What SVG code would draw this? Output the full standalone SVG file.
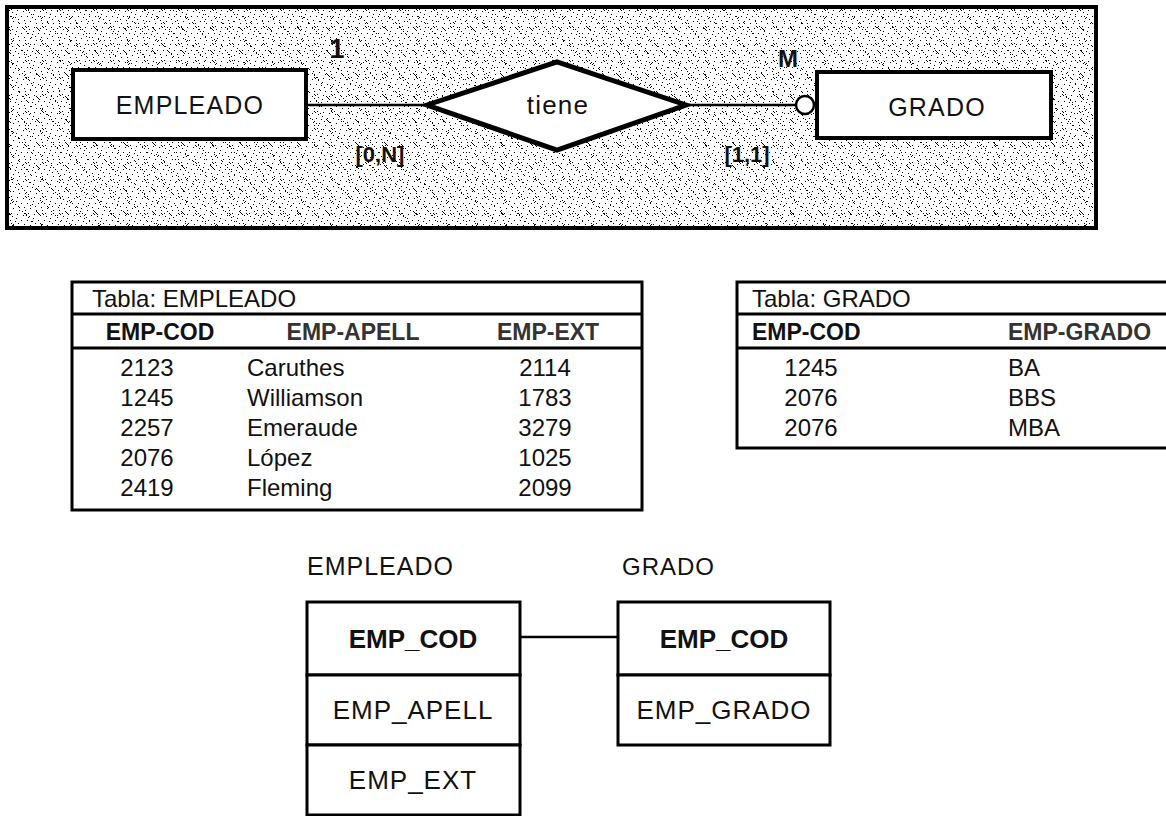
<svg xmlns="http://www.w3.org/2000/svg" width="1166" height="816" viewBox="0 0 1166 816">
<defs>
<pattern id="noise1" x="0" y="0" width="17" height="17" patternUnits="userSpaceOnUse">
<path d="M1 2h1v1h-1zM7 3h1v1h-1zM13 4h1v1h-1zM2 6h1v1h-1zM8 6h1v1h-1zM11 9h1v1h-1zM0 10h1v1h-1zM6 11h1v1h-1zM12 12h1v1h-1zM16 14h1v1h-1zM4 16h1v1h-1zM10 16h1v1h-1zM8 9h1v1h-1zM9 10h1v1h-1zM15 0h1v1h-1z" fill="#000"/>
</pattern>
<pattern id="noise2" x="5" y="3" width="29" height="23" patternUnits="userSpaceOnUse">
<path d="M2 1h1v1h-1zM3 2h1v1h-1zM4 3h1v1h-1zM5 4h1v1h-1zM17 1h1v1h-1zM19 3h1v1h-1zM21 5h1v1h-1zM23 7h1v1h-1zM6 13h1v1h-1zM8 14h1v1h-1zM7 15h1v1h-1zM25 18h1v1h-1zM13 19h1v1h-1zM14 20h1v1h-1zM26 11h1v1h-1z" fill="#000"/>
</pattern>
<pattern id="light1" x="0" y="0" width="19" height="15" patternUnits="userSpaceOnUse">
<path d="M1 1h1v1h-1zM6 3h1v1h-1zM11 0h1v1h-1zM15 4h1v1h-1zM3 7h1v1h-1zM9 8h1v1h-1zM13 9h1v1h-1zM17 7h1v1h-1zM0 12h1v1h-1zM5 13h1v1h-1zM10 11h1v1h-1zM16 13h1v1h-1z" fill="#000"/>
</pattern>
<style>
.ent{fill:#fff;stroke:#000;stroke-width:4}
.lbl{font-family:"Liberation Sans",Arial,sans-serif;font-size:25px;fill:#111;letter-spacing:1.2px}
.card{font-family:"Liberation Sans",Arial,sans-serif;font-size:22px;font-weight:bold;fill:#111}
.tb{font-family:"Liberation Sans",Arial,sans-serif;font-size:24px;fill:#111}
.tbh{font-family:"Liberation Sans",Arial,sans-serif;font-size:23px;font-weight:bold;fill:#111}
.tbh2{font-family:"Liberation Sans",Arial,sans-serif;font-size:23px;font-weight:bold;fill:#333}
.cell{fill:#fff;stroke:#000;stroke-width:3}
.rel{font-family:"Liberation Sans",Arial,sans-serif;font-size:26px;fill:#111;letter-spacing:1px}
.conn{stroke:#000;stroke-width:2.5;fill:none}
.tline{stroke:#000;stroke-width:3;fill:none}
</style>
</defs>

<g id="er-frame">
<rect x="7" y="7" width="1089" height="221" fill="#fff"/>
<rect x="7" y="7" width="1089" height="221" fill="url(#noise1)"/>
<rect x="7" y="7" width="1089" height="221" fill="url(#noise2)"/>
<rect x="7" y="7" width="1089" height="221" fill="none" stroke="#000" stroke-width="4"/>
</g>

<g id="connectors">
<line class="conn" x1="306" y1="105" x2="427" y2="105"/>
<line class="conn" x1="686" y1="105" x2="796" y2="105"/>
<line class="conn" x1="520" y1="637" x2="618" y2="637" stroke-width="2"/>
<circle cx="805" cy="105" r="9" fill="#fff" stroke="#000" stroke-width="2.5"/>
</g>

<g id="empleado">
<rect class="ent" x="73" y="70" width="233" height="69"/>
<text class="lbl" x="190" y="114" text-anchor="middle">EMPLEADO</text>
</g>

<g id="tiene">
<polygon points="427,105 557,62 686,105 557,150" fill="#fff" stroke="#000" stroke-width="5" stroke-linejoin="miter"/>
<text class="lbl" x="558" y="114" text-anchor="middle" style="font-size:26px">tiene</text>
</g>

<g id="grado">
<rect class="ent" x="817" y="72" width="234" height="66"/>
<text class="lbl" x="937" y="116" text-anchor="middle">GRADO</text>
</g>

<g id="cardinalities">
<text class="card" x="337" y="58" text-anchor="middle" style="font-size:27px">1</text>
<text class="card" x="380" y="162" text-anchor="middle">[0,N]</text>
<text class="card" x="788" y="67" text-anchor="middle" style="font-size:24px">M</text>
<text class="card" x="747" y="162" text-anchor="middle">[1,1]</text>
</g>

<g id="tabla-empleado">
<rect class="cell" x="72" y="282" width="570" height="228"/>
<line class="tline" x1="72" y1="314" x2="642" y2="314"/>
<line class="tline" x1="72" y1="348" x2="642" y2="348"/>
<text class="tb" x="92" y="307">Tabla: EMPLEADO</text>
<text class="tbh" x="160" y="340" text-anchor="middle">EMP-COD</text>
<text class="tbh2" x="353" y="340" text-anchor="middle">EMP-APELL</text>
<text class="tbh2" x="548" y="340" text-anchor="middle">EMP-EXT</text>
<text class="tb" x="147" y="376" text-anchor="middle">2123</text>
<text class="tb" x="247" y="376">Caruthes</text>
<text class="tb" x="545" y="376" text-anchor="middle">2114</text>
<text class="tb" x="147" y="406" text-anchor="middle">1245</text>
<text class="tb" x="247" y="406">Williamson</text>
<text class="tb" x="545" y="406" text-anchor="middle">1783</text>
<text class="tb" x="147" y="436" text-anchor="middle">2257</text>
<text class="tb" x="247" y="436">Emeraude</text>
<text class="tb" x="545" y="436" text-anchor="middle">3279</text>
<text class="tb" x="147" y="466" text-anchor="middle">2076</text>
<text class="tb" x="247" y="466">López</text>
<text class="tb" x="545" y="466" text-anchor="middle">1025</text>
<text class="tb" x="147" y="496" text-anchor="middle">2419</text>
<text class="tb" x="247" y="496">Fleming</text>
<text class="tb" x="545" y="496" text-anchor="middle">2099</text>
</g>

<g id="tabla-grado">
<rect class="cell" x="737" y="282" width="440" height="166"/>
<line class="tline" x1="737" y1="314" x2="1166" y2="314"/>
<line class="tline" x1="737" y1="348" x2="1166" y2="348"/>
<text class="tb" x="752" y="307">Tabla: GRADO</text>
<text class="tbh" x="752" y="340">EMP-COD</text>
<text class="tbh2" x="1008" y="340">EMP-GRADO</text>
<text class="tb" x="811" y="376" text-anchor="middle">1245</text>
<text class="tb" x="1008" y="376">BA</text>
<text class="tb" x="811" y="406" text-anchor="middle">2076</text>
<text class="tb" x="1008" y="406">BBS</text>
<text class="tb" x="811" y="436" text-anchor="middle">2076</text>
<text class="tb" x="1008" y="436">MBA</text>
</g>

<g id="rel-empleado">
<text class="rel" x="307" y="575" style="font-size:25px">EMPLEADO</text>
<rect x="307" y="602" width="213" height="73" fill="#fff"/>
<rect x="307" y="602" width="213" height="73" fill="url(#light1)"/>
<rect class="cell" x="307" y="602" width="213" height="73" fill="none"/>
<rect class="cell" x="307" y="675" width="213" height="70"/>
<rect class="cell" x="307" y="745" width="213" height="70"/>
<text class="rel" x="413" y="648" text-anchor="middle" style="font-weight:bold;letter-spacing:0">EMP_COD</text>
<text class="rel" x="413" y="719" text-anchor="middle">EMP_APELL</text>
<text class="rel" x="413" y="789" text-anchor="middle">EMP_EXT</text>
</g>

<g id="rel-grado">
<text class="rel" x="622" y="575" style="font-size:24px">GRADO</text>
<rect x="618" y="602" width="212" height="73" fill="#fff"/>
<rect x="618" y="602" width="212" height="73" fill="url(#light1)"/>
<rect class="cell" x="618" y="602" width="212" height="73" fill="none"/>
<rect class="cell" x="618" y="675" width="212" height="70"/>
<text class="rel" x="724" y="648" text-anchor="middle" style="font-weight:bold;letter-spacing:0">EMP_COD</text>
<text class="rel" x="724" y="719" text-anchor="middle">EMP_GRADO</text>
</g>
</svg>
